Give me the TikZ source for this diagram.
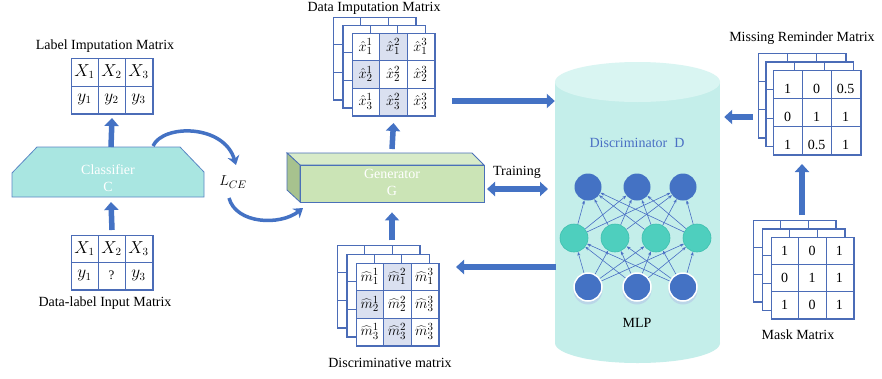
\documentclass[tikz,border=0pt]{standalone}
\usepackage{fontspec}
\setmainfont{Liberation Serif}
\usetikzlibrary{arrows.meta,calc}
\definecolor{gridc}{HTML}{4B6CB7}
\definecolor{shadec}{HTML}{DAE0F0}
\definecolor{arrc}{HTML}{4472C4}
\definecolor{clsfill}{HTML}{A9E6E1}
\definecolor{clsdraw}{HTML}{5B87C5}
\definecolor{genfront}{HTML}{CBE4B6}
\definecolor{gentop}{HTML}{D8EBC9}
\definecolor{genleft}{HTML}{A7C28E}
\definecolor{gendraw}{HTML}{4A70B8}
\definecolor{cylbody}{HTML}{C4EEEA}
\definecolor{cyltop}{HTML}{D9F5F2}
\definecolor{neublue}{HTML}{4472C4}
\definecolor{neuteal}{HTML}{4ECFBE}
\definecolor{neutealdraw}{HTML}{3DBFAE}
\definecolor{discc}{HTML}{4A6FC4}
\newcommand\tblbox[5]{\node[gridbox,minimum width=#4pt,minimum height=#5pt] (#1) at (#2,#3) {};}
\newcommand\tblgrid[2]{%
  \draw[gridline] ($(#1.north west)!1/3!(#1.north east)$) -- ($(#1.south west)!1/3!(#1.south east)$);
  \draw[gridline] ($(#1.north west)!2/3!(#1.north east)$) -- ($(#1.south west)!2/3!(#1.south east)$);
  \pgfmathtruncatemacro\nrm{#2-1}%
  \foreach \f in {1,...,\nrm} {\draw[gridline] ($(#1.north west)!\f/#2!(#1.south west)$) -- ($(#1.north east)!\f/#2!(#1.south east)$);}
  \draw[gridline] (#1.north west) rectangle (#1.south east);
}
\newcommand\tblshade[5]{\fill[shadec] ($(#1.north west)+({#4*#2/3},{#5*#3/3})$) rectangle ++({#2/3},{#3/3});}
\newcommand\tblcells[6]{%
  \foreach \t [count=\k from 0] in {#6} {%
    \pgfmathtruncatemacro\rr{floor(\k/3)}%
    \pgfmathtruncatemacro\cc{mod(\k,3)}%
    \node[cell] (#1-\k) at ($(#1.north west)+({(\cc+0.5)*#2/3},{(\rr+0.5)*#3/#4+#5})$) {\t};}}
\newcommand\stackmat[7]{%
  \tblbox{#1B}{#2}{#3}{#4}{#5}\tblgrid{#1B}{3}%
  \tblbox{#1M}{#2+#6}{#3+#7}{#4}{#5}\tblgrid{#1M}{3}%
  \tblbox{#1}{#2+2*#6}{#3+2*#7}{#4}{#5}}
\begin{document}
\begin{tikzpicture}[x=1pt,y=-1pt,
  gridbox/.style={draw=gridc,line width=1pt,fill=white,inner sep=0,anchor=north west},
  gridline/.style={draw=gridc,line width=1pt},
  cell/.style={font=\fontsize{14}{16}\selectfont,inner sep=0},
  mcell/.style={font=\fontsize{16}{18}\selectfont,inner sep=0},
  hcell/.style={font=\fontsize{15}{17}\selectfont,inner sep=0},
  lbl/.style={font=\fontsize{14}{16}\selectfont,inner sep=0},
  blockarrow/.style={draw=arrc,line width=5.5pt,-{Triangle[length=8pt,width=14pt]}},
  dblarrow/.style={draw=arrc,line width=5.5pt,{Triangle[length=8pt,width=14pt]}-{Triangle[length=8pt,width=14pt]}},
  curvearrow/.style={draw=arrc,line width=3.5pt,-{Stealth[length=9pt,width=12pt]}},
  nnedge/.style={draw=discc,line width=0.6pt,-{Stealth[length=4pt,width=3pt]}},
  neuB/.style={circle,fill=neublue,minimum size=27pt,inner sep=0},
  neuM/.style={circle,fill=neuteal,draw=neutealdraw,line width=0.6pt,minimum size=28pt,inner sep=0},
  neuL/.style={circle,fill=neublue,draw=white,line width=1.5pt,minimum size=28pt,inner sep=0}]
\useasboundingbox (0,0) rectangle (882,378);
\fill[white] (0,0) rectangle (882,378);

% ---------- Label Imputation Matrix ----------
\node[lbl] (limT) at (105,46) {Label Imputation Matrix};
\tblbox{lim}{71}{58}{81}{55}
\tblgrid{lim}{2}
\begin{scope}[cell/.style={mcell}]
\tblcells{lim}{81}{55}{2}{0}{$X_1$,$X_2$,$X_3$,$y_1$,$y_2$,$y_3$}
\end{scope}

% ---------- Classifier ----------
\filldraw[fill=clsfill,draw=clsdraw,line width=0.8pt] (37,147) -- (180,147) -- (204,172) -- (204,197) -- (12,197) -- (12,173) -- cycle;
\node[lbl,white,align=center] (cls) at (108,178) {Classifier\\[1pt]C};
\coordinate (clstop) at (111,147);
\coordinate (clsbot) at (111,197);

% ---------- Data-label Input Matrix ----------
\tblbox{dli}{71}{235}{81}{54}
\tblgrid{dli}{2}
\begin{scope}[cell/.style={mcell}]
\tblcells{dli}{81}{54}{2}{0}{$X_1$,$X_2$,$X_3$,$y_1$,{\fontsize{13}{15}\selectfont ?},$y_3$}
\end{scope}
\node[lbl] (dliT) at (105,303) {Data-label Input Matrix};

\draw[blockarrow] (clstop) -- ([yshift=-4pt]lim.south);
\draw[blockarrow] ([yshift=5pt]dli.north) -- ([yshift=-5pt]clsbot);

% ---------- L_CE and curved arrows ----------
\node[lbl,font=\fontsize{15}{17}\selectfont] (lce) at (233,182) {$L_{CE}$};
\coordinate (c1s) at (153,146);
\coordinate (c1e) at (236,165);
\coordinate (c2s) at (229,198);
\coordinate (c2e) at (303,208);
\draw[curvearrow] (c1s) .. controls (163,124) and (224,124) .. (c1e);
\draw[curvearrow] (c2s) .. controls (236,224) and (280,226) .. (c2e);

% ---------- Generator ----------
\filldraw[fill=gentop,draw=gendraw,line width=0.8pt] (287,153) -- (472,153) -- (484,165) -- (300,165) -- cycle;
\filldraw[fill=genleft,draw=gendraw,line width=0.8pt] (287,153) -- (300,165) -- (300,202) -- (287,190) -- cycle;
\node[draw=gendraw,line width=0.8pt,fill=genfront,minimum width=184pt,minimum height=37pt,inner sep=0] (gen) at (392,183.5) {};
\node[lbl,white,align=center] (genT) at (392,182) {Generator\\[1pt]G};
\coordinate (gtop) at (392,149);

% ---------- Data Imputation Matrix ----------
\node[lbl] (dimT) at (374,8) {Data Imputation Matrix};
\stackmat{dim}{333}{17}{82}{82}{9.5}{8}
\tblshade{dim}{82}{82}{1}{0}
\tblshade{dim}{82}{82}{0}{1}
\tblshade{dim}{82}{82}{1}{2}
\tblgrid{dim}{3}
\begin{scope}[cell/.style={hcell}]
\tblcells{dim}{82}{82}{3}{0}{$\hat{x}_1^1$,$\hat{x}_1^2$,$\hat{x}_1^3$,$\hat{x}_2^1$,$\hat{x}_2^2$,$\hat{x}_2^3$,$\hat{x}_3^1$,$\hat{x}_3^2$,$\hat{x}_3^3$}
\end{scope}

% ---------- Discriminative matrix ----------
\stackmat{dsm}{337}{245}{82}{82}{9.5}{9}
\tblshade{dsm}{82}{82}{1}{0}
\tblshade{dsm}{82}{82}{0}{1}
\tblshade{dsm}{82}{82}{1}{2}
\tblgrid{dsm}{3}
\begin{scope}[cell/.style={hcell}]
\tblcells{dsm}{82}{82}{3}{0}{$\widehat{m}_1^1$,$\widehat{m}_1^2$,$\widehat{m}_1^3$,$\widehat{m}_2^1$,$\widehat{m}_2^2$,$\widehat{m}_3^3$,$\widehat{m}_3^1$,$\widehat{m}_3^2$,$\widehat{m}_3^3$}
\end{scope}
\node[lbl] (dsmT) at (390,363) {Discriminative matrix};

\draw[blockarrow] (gtop) -- ([yshift=-7pt]dim.south);
\draw[blockarrow] ($(gen.south)+(0,38)$) -- ([yshift=-10pt]gen.south);

% ---------- Discriminator cylinder ----------
\fill[cylbody] (555,82) rectangle (720,343);
\fill[cylbody] (637.5,343) ellipse [x radius=82.5, y radius=20];
\fill[cyltop] (637.5,82) ellipse [x radius=82.5, y radius=20];
\node[inner sep=0,minimum width=165pt,minimum height=301pt] (disc) at (637.5,212.5) {};
\node[lbl,text=discc] (discT) at (637,143) {Discriminator\ \ D};
\node[lbl] (mlp) at (637,323) {MLP};

% neurons
\foreach \i/\x in {1/588,2/637,3/683} {
  \fill[neublue!40,opacity=0.6] (\x,290) circle (14.5);
}
\foreach \i/\x in {1/588,2/637,3/683} \node[neuB] (t\i) at (\x,187) {};
\foreach \i/\x in {1/574,2/615,3/656,4/697} \node[neuM] (m\i) at (\x,238) {};
\foreach \i/\x in {1/588,2/637,3/683} \node[neuL] (b\i) at (\x,287) {};
\foreach \a in {1,2,3} \foreach \b in {1,2,3,4} {
  \draw[nnedge] (b\a) -- (m\b);
  \draw[nnedge] (m\b) -- (t\a);
}

% ---------- arrows around discriminator ----------
\coordinate (a1) at (452,101);
\draw[blockarrow] (a1) -- (a1 -| disc.west);
\coordinate (tr1) at (487,189);
\coordinate (tr2) at (548,189);
\draw[dblarrow] (tr1) -- (tr2);
\node[lbl] (trT) at (517,172) {Training};
\coordinate (a3) at (556,267);
\draw[blockarrow] (a3) -- ($(dsm.east |- a3)+(17,0)$);

% ---------- Missing Reminder Matrix ----------
\node[lbl] (mrmT) at (802,38) {Missing Reminder Matrix};
\stackmat{mrm}{758}{53}{87}{84}{7.5}{8.5}
\tblgrid{mrm}{3}
\tblcells{mrm}{87}{84}{3}{5}{1,0,0.5,0,1,1,1,0.5,1}

% ---------- Mask Matrix ----------
\stackmat{msk}{753}{220}{82}{81}{9}{8.5}
\tblgrid{msk}{3}
\tblcells{msk}{82}{81}{3}{0}{1,0,1,0,1,1,1,0,1}
\node[lbl] (mskT) at (798,335) {Mask Matrix};

\coordinate (a4) at (753,117);
\draw[blockarrow] (a4) -- ($(disc.east |- a4)+(4,0)$);
\draw[blockarrow] ($(mrmB.south |- mskB.north)+(0,-5)$) -- ($(mrmB.south)+(0,26)$);
\end{tikzpicture}
\end{document}
